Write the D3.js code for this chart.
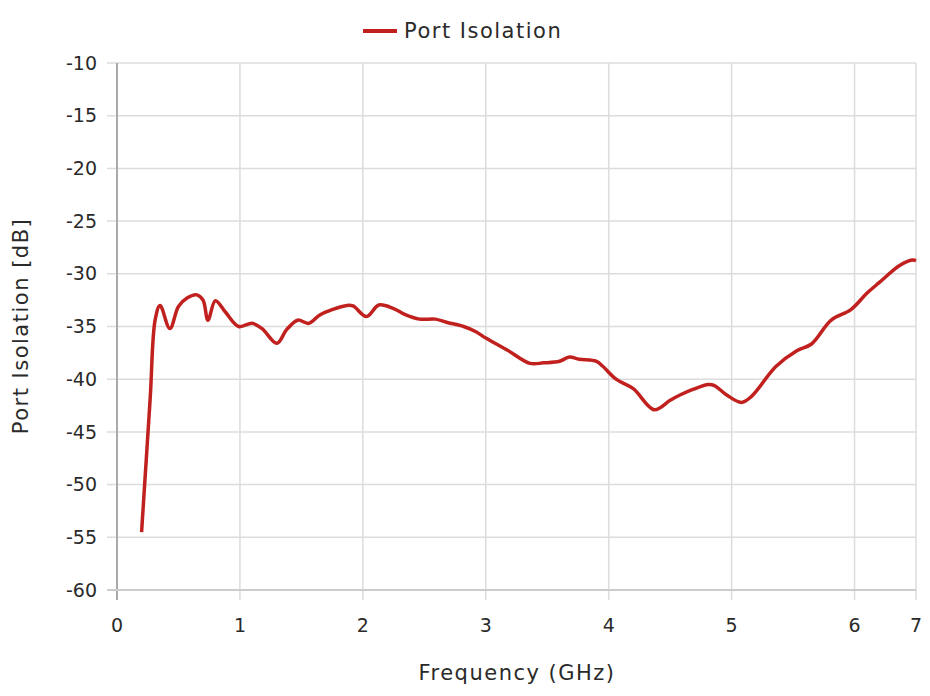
<!DOCTYPE html>
<html><head><meta charset="utf-8">
<script src="https://cdn.jsdelivr.net/npm/d3@7"></script>
<style>body{margin:0;background:#fff;} svg{display:block;font-family:"DejaVu Sans",sans-serif;}</style>
</head><body><svg id="c" width="930" height="696"></svg>
<script>
const seriesName = "Port Isolation";
const freq = [0.2,0.27,0.31,0.35,0.43,0.5,0.57,0.65,0.70,0.74,0.80,0.88,0.99,1.1,1.18,1.3,1.38,1.47,1.56,1.65,1.75,1.87,1.92,2.03,2.13,2.25,2.34,2.46,2.59,2.68,2.82,2.92,3.0,3.17,3.36,3.47,3.6,3.68,3.76,3.9,3.95,4.06,4.2,4.37,4.5,4.58,4.69,4.81,4.86,4.96,5.08,5.16,5.36,5.53,5.65,5.81,5.97,6.1,6.2,6.37,6.47,6.5];
const isolation = [-54.5,-41.8,-34.4,-33.0,-35.2,-33.1,-32.3,-32.0,-32.5,-34.4,-32.55,-33.6,-35.0,-34.7,-35.2,-36.6,-35.3,-34.4,-34.7,-33.9,-33.4,-33.0,-33.05,-34.05,-32.96,-33.3,-33.85,-34.3,-34.3,-34.6,-35.0,-35.5,-36.1,-37.2,-38.5,-38.45,-38.3,-37.9,-38.1,-38.3,-38.75,-40.0,-40.9,-42.9,-42.0,-41.5,-40.95,-40.5,-40.6,-41.5,-42.2,-41.65,-38.8,-37.3,-36.66,-34.4,-33.4,-31.85,-30.84,-29.2,-28.7,-28.75];
const xTicks = [0,1,2,3,4,5,6,6.5];
const xTickLabels = ["0","1","2","3","4","5","6","7"];
const yTicks = [-10,-15,-20,-25,-30,-35,-40,-45,-50,-55,-60];
const xDomain = [0,6.5];
const yDomain = [-60,-10];

const svg = d3.select("#c");
const L=117,R=916,T=63,B=590;
const x = d3.scaleLinear().domain(xDomain).range([L,R]);
const y = d3.scaleLinear().domain(yDomain).range([B,T]);
const col = "#c0201e";
const tcol = "#2a2a2a";

// grid
svg.append("g").selectAll("line").data(yTicks).join("line")
  .attr("x1",L-10).attr("x2",R).attr("y1",d=>y(d)).attr("y2",d=>y(d))
  .attr("stroke","#dcdcdc").attr("stroke-width",1.5);
svg.append("g").selectAll("line").data(xTicks).join("line")
  .attr("x1",d=>x(d)).attr("x2",d=>x(d)).attr("y1",T).attr("y2",B+10)
  .attr("stroke","#dcdcdc").attr("stroke-width",1.5);
// axes lines
svg.append("line").attr("x1",L).attr("x2",L).attr("y1",T).attr("y2",B+10).attr("stroke","#aaa").attr("stroke-width",2);
svg.append("line").attr("x1",L-10).attr("x2",R).attr("y1",B).attr("y2",B).attr("stroke","#ccc").attr("stroke-width",2);

// tick labels
svg.append("g").selectAll("text").data(yTicks).join("text")
  .attr("x",L-20).attr("y",d=>y(d)).attr("dy","0.35em").attr("text-anchor","end")
  .attr("font-size",19).attr("fill",tcol).text(d=>d);
svg.append("g").selectAll("text").data(xTicks).join("text")
  .attr("x",d=>x(d)).attr("y",B+42).attr("text-anchor","middle")
  .attr("font-size",19).attr("fill",tcol).text((d,i)=>xTickLabels[i]);

// axis titles
svg.append("text").attr("x",517).attr("y",680).attr("text-anchor","middle")
  .attr("font-size",21).attr("letter-spacing",1.5).attr("fill",tcol).text("Frequency (GHz)");
svg.append("text").attr("transform","translate(28,326) rotate(-90)").attr("text-anchor","middle")
  .attr("font-size",21).attr("letter-spacing",1.5).attr("fill",tcol).text("Port Isolation [dB]");

// line
const data = freq.map((f,i)=>({f,v:isolation[i]}));
svg.append("path").datum(data)
  .attr("d",d3.line().x(d=>x(d.f)).y(d=>y(d.v)).curve(d3.curveCatmullRom.alpha(0.5)))
  .attr("fill","none").attr("stroke",col).attr("stroke-width",3.5).attr("stroke-linejoin","round").attr("stroke-linecap","butt");

// legend
svg.append("line").attr("x1",363).attr("x2",397).attr("y1",31).attr("y2",31).attr("stroke",col).attr("stroke-width",4);
svg.append("text").attr("x",404).attr("y",31).attr("dy","0.35em").attr("font-size",21).attr("letter-spacing",1.5).attr("fill",tcol).text(seriesName);
</script></body></html>
